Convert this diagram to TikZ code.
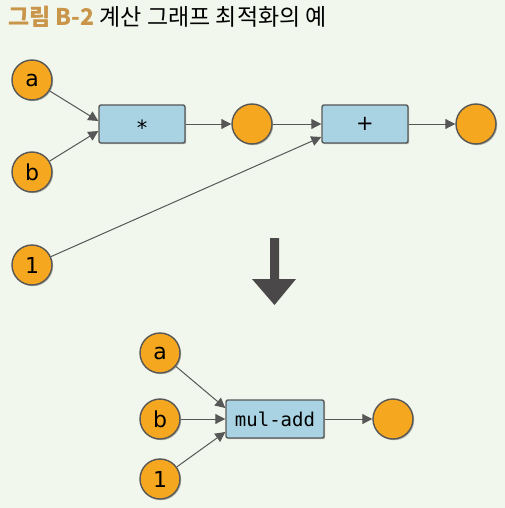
\documentclass[tikz,border=0pt]{standalone}
\usepackage{fontspec}
\setmainfont{DejaVu Sans}
\setmonofont{DejaVu Sans Mono}
\newfontfamily\krfont{Noto Sans CJK KR}
\usetikzlibrary{arrows.meta,shadows}
\definecolor{bgcol}{HTML}{F1F7EC}
\definecolor{valfill}{HTML}{F5A71F}
\definecolor{opfill}{HTML}{A9D3E3}
\definecolor{edgecol}{HTML}{575757}
\definecolor{titlegold}{HTML}{C9954B}
\definecolor{bigcol}{HTML}{4A4849}
\tikzset{
  valnode/.style={circle,draw=edgecol,line width=1.4pt,fill=valfill,minimum size=40pt,inner sep=0pt,
    font=\fontsize{22}{26}\selectfont,drop shadow={shadow xshift=1.2pt,shadow yshift=-1.2pt,opacity=0.25,fill=black}},
  opbox/.style={draw=edgecol,line width=1.4pt,fill=opfill,rounded corners=2pt,minimum width=86pt,minimum height=38pt,inner sep=0pt,
    font=\fontsize{21}{26}\selectfont,drop shadow={shadow xshift=1.2pt,shadow yshift=-1.2pt,opacity=0.25,fill=black}},
  flowArrow/.style={-{Triangle[length=10pt,width=10pt]},draw=edgecol,line width=1pt}
}

\begin{document}
\begin{tikzpicture}[x=1pt,y=-1pt]
  \useasboundingbox (0,0) rectangle (505,508);
  \fill[bgcol] (0,0) rectangle (505,508);
  \node[anchor=base west,inner sep=0pt] (title) at (8,26)
    {\krfont\fontsize{23}{26}\selectfont{\bfseries\color{titlegold}그림 B-2} 계산 그래프 최적화의 예};

  % before
  \node[valnode] (a1) at (32,80) {a};
  \node[valnode] (b1) at (32,172) {b};
  \node[valnode] (one1) at (32,265) {1};
  \node[opbox] (mul1) at (142,124) {\raisebox{-12pt}[0pt][0pt]{*}};
  \node[valnode] (m1) at (252,124) {};
  \node[opbox] (add1) at (365,124) {+};
  \node[valnode] (out1) at (476,124) {};
  \draw[flowArrow] (a1) -- ([yshift=3pt]mul1.west);
  \draw[flowArrow] (b1) -- ([yshift=-7pt]mul1.west);
  \draw[flowArrow] (mul1) -- (m1);
  \draw[flowArrow] (m1) -- (add1);
  \draw[flowArrow] (one1) -- ([yshift=-13pt]add1.west);
  \draw[flowArrow] (add1) -- (out1);

  \fill[bigcol] (270,238) -- (279,238) -- (279,279) -- (296,279) -- (274.5,305) -- (252,279) -- (270,279) -- cycle;

  % after
  \node[valnode] (a2) at (160,353) {a};
  \node[valnode] (b2) at (160,419) {b};
  \node[valnode] (one2) at (160,479) {1};
  \node[opbox,minimum width=98pt,font=\ttfamily\fontsize{19}{24}\selectfont] (fused2) at (275,419) {mul-add};
  \node[valnode] (out2) at (393,419) {};
  \draw[flowArrow] (a2) -- ([yshift=11pt]fused2.west);
  \draw[flowArrow] (b2) -- (fused2);
  \draw[flowArrow] (one2) -- ([yshift=-13pt]fused2.west);
  \draw[flowArrow] (fused2) -- (out2);
\end{tikzpicture}
\end{document}
